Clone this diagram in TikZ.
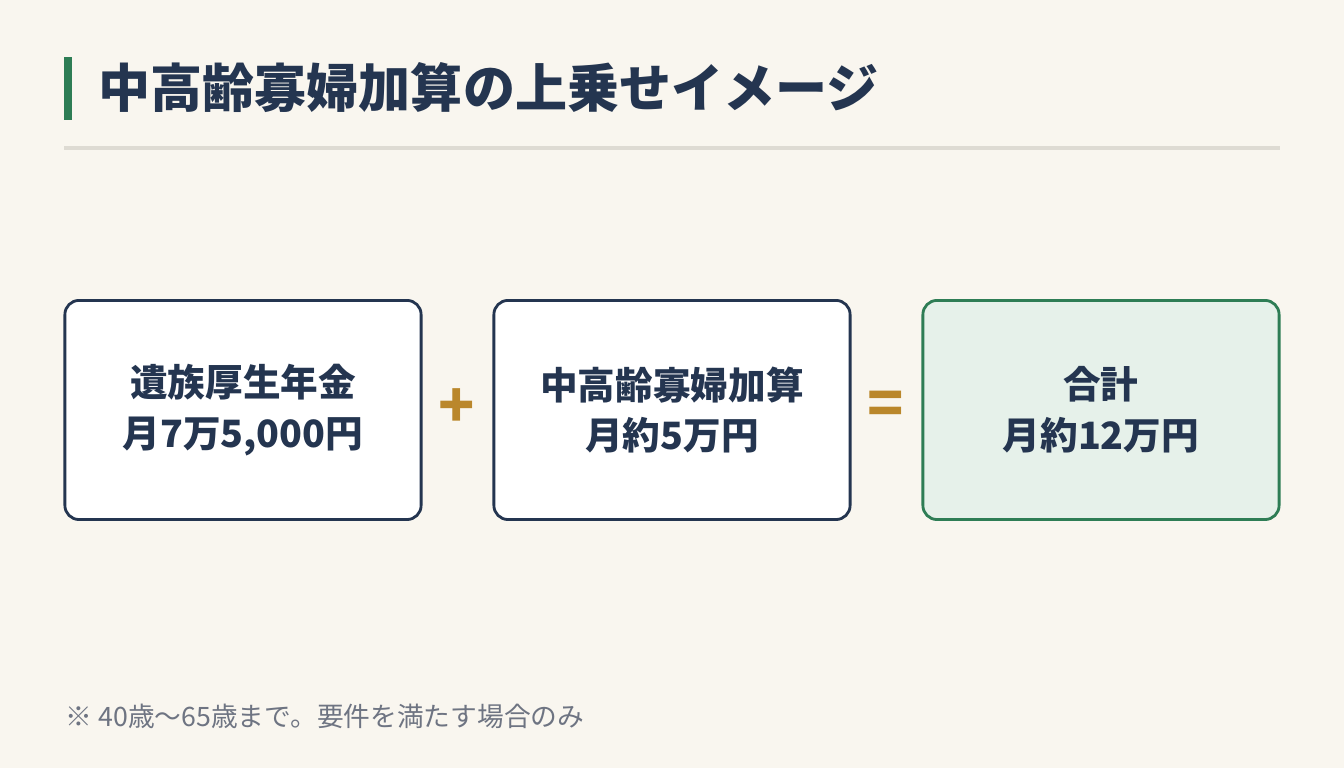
\documentclass[tikz,border=0pt]{standalone}
\usepackage{fontspec}
\setmainfont{Noto Sans CJK JP}
\usetikzlibrary{positioning}
\definecolor{paper}{RGB}{249, 246, 239}
\definecolor{navy}{RGB}{36, 53, 80}
\definecolor{leaf}{RGB}{46, 125, 85}
\definecolor{leafbg}{RGB}{230, 241, 234}
\definecolor{gold}{RGB}{186, 135, 43}
\definecolor{rule}{RGB}{222, 219, 211}
\definecolor{note}{RGB}{110, 116, 130}
\begin{document}
\begin{tikzpicture}[
    x=0.01cm, y=-0.01cm,
    amount/.style={rectangle, rounded corners=4pt, draw=navy, line width=0.8pt, fill=white,
        minimum width=3.56cm, minimum height=2.19cm, align=center, text=navy,
        font=\fontsize{10.7}{14.4}\selectfont\bfseries},
    total/.style={amount, draw=leaf, fill=leafbg},
    op/.style={text=gold, font=\fontsize{17}{17}\selectfont\bfseries}
]
    \fill[paper] (0,0) rectangle (1344,768);
    \fill[leaf] (64,57) rectangle (72,120);
    \node[anchor=west, inner sep=0pt, text=navy, font=\fontsize{14.8}{16}\selectfont\bfseries] (title) at (98,88) {中高齢寡婦加算の上乗せイメージ};
    \draw[rule, line width=1.2pt] (64,148) -- (1280,148);

    \node[amount] (pension) at (243,410) {遺族厚生年金\\月7万5,000円};
    \node[amount] (widow) at (672,410) {中高齢寡婦加算\\月約5万円};
    \node[total] (sum) at (1101,410) {合計\\月約12万円};
    \node[op] (plus) at (457,408) {+};
    \node[op] (equals) at (886,408) {=};

    \node[anchor=west, inner sep=0pt, text=note, font=\fontsize{7.6}{9}\selectfont] (footnote) at (65,716) {※ 40歳〜65歳まで。要件を満たす場合のみ};
\end{tikzpicture}
\end{document}
